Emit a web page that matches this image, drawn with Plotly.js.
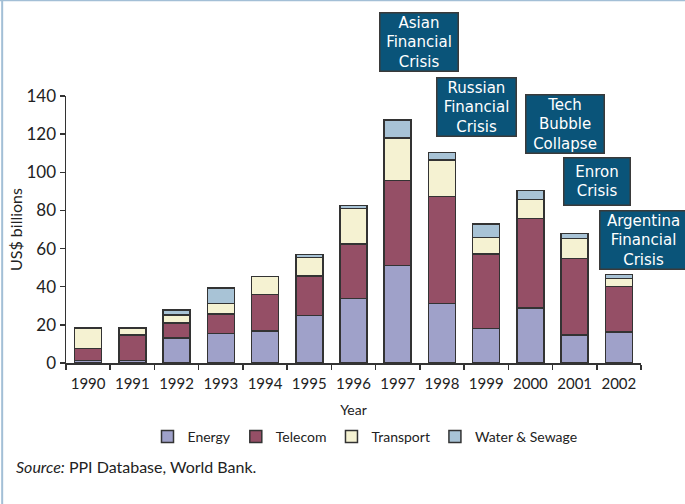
<!DOCTYPE html>
<html>
<head>
<meta charset="utf-8">
<script src="https://cdn.plot.ly/plotly-3.0.1.min.js"></script>
<style>html,body{margin:0;padding:0;background:#fff;}#chart{width:685px;height:504px;}</style>
</head>
<body>
<div id="chart"></div>
<script>
const years = ["1990","1991","1992","1993","1994","1995","1996","1997","1998","1999","2000","2001","2002"];
const energy    = [1.2, 1.2, 13.1, 15.5, 16.9, 25.0, 33.7, 51.2, 31.3, 18.0, 28.8, 14.8, 16.3];
const telecom   = [6.3, 13.6, 8.0, 10.2, 18.9, 20.6, 28.7, 44.4, 55.9, 39.2, 46.9, 39.9, 23.7];
const transport = [10.8, 3.5, 4.2, 5.6, 9.5, 9.8, 18.5, 22.4, 19.3, 8.7, 10.1, 10.5, 4.4];
const water     = [0, 0, 2.5, 8.0, 0, 1.6, 1.7, 9.4, 3.8, 7.0, 4.6, 2.6, 1.9];
const seriesNames = ["Energy", "Telecom", "Transport", "Water & Sewage"];
const crises = ["Asian<br>Financial<br>Crisis", "Russian<br>Financial<br>Crisis", "Tech<br>Bubble<br>Collapse", "Enron<br>Crisis", "Argentina<br>Financial<br>Crisis"];

const FONT = "Lato, 'Open Sans', sans-serif";
const BOXFONT = "'DejaVu Sans', sans-serif";
const colors = ["#9fa1c9", "#954f66", "#f5f2d2", "#a8c3d6"];
const data = [energy, telecom, transport, water].map((v, i) => ({
  type: "bar", x: years, y: v, name: seriesNames[i],
  marker: {color: colors[i], line: {color: "#333333", width: 1.5}},
  hoverinfo: "skip"
}));

const boxPos = [
  {x: 0.614, y: 1.202, w: 77, h: 57},
  {x: 0.714, y: 0.959, w: 78, h: 57},
  {x: 0.868, y: 0.895, w: 77, h: 57},
  {x: 0.923, y: 0.680, w: 65, h: 46},
  {x: 1.005, y: 0.461, w: 86, h: 57}
];
const annotations = crises.map((t, i) => ({
  xref: "paper", yref: "paper", x: boxPos[i].x, y: boxPos[i].y,
  xanchor: "center", yanchor: "middle", showarrow: false,
  text: t, width: boxPos[i].w, height: boxPos[i].h,
  bgcolor: "#0a5479", bordercolor: "#3a3a3a", borderwidth: 1.5, borderpad: 0,
  font: {family: BOXFONT, size: 15, color: "#ffffff"}, align: "center"
}));
annotations.push({
  xref: "paper", yref: "paper", x: -0.09, y: -0.386, xanchor: "left", yanchor: "middle",
  showarrow: false, text: "<i>Source:</i> PPI Database, World Bank.",
  font: {family: FONT, size: 16, color: "#222222"}
});

const layout = {
  width: 685, height: 504,
  margin: {l: 66, r: 44, t: 96, b: 141},
  paper_bgcolor: "#ffffff", plot_bgcolor: "#ffffff",
  barmode: "stack", bargap: 0.39,
  font: {family: FONT, color: "#222222"},
  showlegend: true,
  legend: {orientation: "h", x: 0.52, y: -0.277, xanchor: "center", yanchor: "middle",
           font: {family: FONT, size: 14, color: "#222222"}, traceorder: "normal",
           itemwidth: 30, tracegroupgap: 0},
  xaxis: {
    type: "category", showline: true, linecolor: "#333333", linewidth: 1.5,
    ticks: "outside", tickson: "boundaries", ticklen: 5, tickcolor: "#333333", tickwidth: 1.5,
    tickangle: 0, ticklabelstandoff: 6,
    tickfont: {family: FONT, size: 15, color: "#222222"},
    title: {text: "Year", font: {family: FONT, size: 14, color: "#222222"}, standoff: 14},
    showgrid: false, zeroline: false, fixedrange: true
  },
  yaxis: {
    range: [0, 140], tickvals: [0, 20, 40, 60, 80, 100, 120, 140],
    showline: true, linecolor: "#333333", linewidth: 1.5,
    ticks: "outside", ticklen: 5, tickcolor: "#333333", tickwidth: 1.5,
    tickfont: {family: FONT, size: 17, color: "#222222"},
    title: {text: "US$ billions", font: {family: FONT, size: 16, color: "#222222"}, standoff: 0},
    showgrid: false, zeroline: false, fixedrange: true
  },
  annotations: annotations,
  shapes: [
    {type: "line", xref: "paper", yref: "paper", x0: -0.115, x1: 1.08, y0: 1.359, y1: 1.359,
     line: {color: "#a3bfd6", width: 2}},
    {type: "line", xref: "paper", yref: "paper", x0: -0.111, x1: -0.111, y0: 1.36, y1: -0.53,
     line: {color: "#a3bfd6", width: 2}}
  ]
};

Plotly.newPlot("chart", data, layout, {displayModeBar: false, staticPlot: true});
</script>
</body>
</html>
